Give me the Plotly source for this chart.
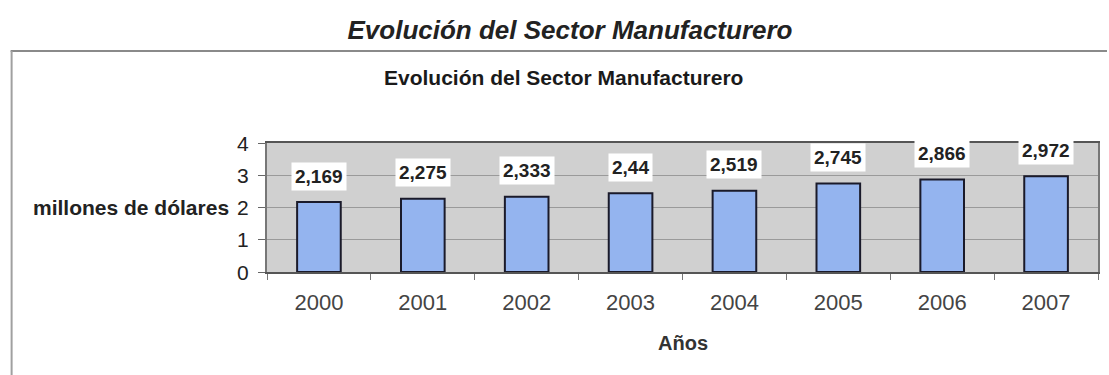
import plotly.graph_objects as go

# Producción manufacturera anual (millones de dólares)
years = ["2000", "2001", "2002", "2003", "2004", "2005", "2006", "2007"]
values = [2.169, 2.275, 2.333, 2.44, 2.519, 2.745, 2.866, 2.972]
y_ticks = [0, 1, 2, 3, 4]

FONT = "Liberation Sans, Arial, sans-serif"

# Layout geometry in pixels
W, H = 1109, 375
L, R, T, B = 267, 9, 143, 103
PW, PH = W - L - R, H - T - B


def px_to_paper_x(px):
    return (px - L) / PW


def px_to_paper_y(py):
    return (H - B - py) / PH


def label_text(v):
    return f"{v:g}".replace(".", ",")


fig = go.Figure()
fig.add_trace(go.Bar(
    x=years,
    y=values,
    marker=dict(color="#94b4ef", line=dict(color="#1a1a2a", width=2)),
    hoverinfo="x+y",
))

# value labels on white boxes above each bar (category index positions)
for i, v in enumerate(values):
    fig.add_annotation(
        x=i, y=v, xref="x", yref="y",
        text=f"<b>{label_text(v)}</b>", showarrow=False,
        yanchor="middle", yshift=26,
        bgcolor="white", borderpad=3,
        font=dict(family=FONT, size=19, color="#222222"),
    )

# y tick labels, placed at the axis values just left of the tick marks
for t in y_ticks:
    fig.add_annotation(
        x=px_to_paper_x(251), xref="paper", y=t, yref="y",
        text=str(t), showarrow=False,
        xanchor="right", yanchor="middle",
        font=dict(family=FONT, size=21, color="#222222"),
    )

# y-axis caption written horizontally beside the tick labels
fig.add_annotation(
    x=px_to_paper_x(231), xref="paper", y=2, yref="y",
    text="<b>millones de dólares</b>", showarrow=False,
    xanchor="right", yanchor="middle",
    font=dict(family=FONT, size=21, color="#222222"),
)

# inner chart title, centred on the chart frame
fig.add_annotation(
    x=px_to_paper_x(564), xref="paper", y=px_to_paper_y(77), yref="paper",
    text="<b>Evolución del Sector Manufacturero</b>", showarrow=False,
    xanchor="center", yanchor="middle",
    font=dict(family=FONT, size=21, color="#1a1a1a"),
)

# x-axis caption
fig.add_annotation(
    x=0.5, xref="paper", y=px_to_paper_y(343), yref="paper",
    text="<b>Años</b>", showarrow=False,
    xanchor="center", yanchor="middle",
    font=dict(family=FONT, size=20, color="#333333"),
)

# chart frame (top and left edges)
fig.add_shape(
    type="line", xref="paper", yref="paper",
    x0=px_to_paper_x(10), x1=px_to_paper_x(1109),
    y0=px_to_paper_y(51), y1=px_to_paper_y(51),
    line=dict(color="#8a8a8a", width=2),
)
fig.add_shape(
    type="line", xref="paper", yref="paper",
    x0=px_to_paper_x(11), x1=px_to_paper_x(11),
    y0=px_to_paper_y(51), y1=px_to_paper_y(375),
    line=dict(color="#a0a0a0", width=2),
)

fig.update_layout(
    width=W, height=H,
    margin=dict(l=L, r=R, t=T, b=B),
    paper_bgcolor="white",
    plot_bgcolor="#d0d0d0",
    bargap=0.58,
    showlegend=False,
    title=dict(
        text="<b><i>Evolución del Sector Manufacturero</i></b>",
        x=px_to_paper_x(570) * PW / W + L / W, xref="container", xanchor="center",
        y=1 - 30 / H, yref="container", yanchor="middle",
        font=dict(family=FONT, size=26, color="#222222"),
    ),
    xaxis=dict(
        type="category",
        range=[-0.5, len(years) - 0.5],
        tickson="boundaries",
        ticks="outside", ticklen=6, tickcolor="#777777",
        ticklabelstandoff=10,
        showline=True, linecolor="#555555", linewidth=1.5, mirror=True,
        showgrid=False,
        tickangle=0,
        tickfont=dict(family=FONT, size=22, color="#444444"),
    ),
    yaxis=dict(
        range=[0, 4],
        tickvals=y_ticks,
        showticklabels=False,
        ticks="outside", ticklen=7, tickcolor="#666666",
        showline=True, linecolor="#777777", linewidth=1.5, mirror=True,
        showgrid=True, gridcolor="#9a9a9a", gridwidth=1,
        zeroline=False,
    ),
)

fig.write_html("out.html")
